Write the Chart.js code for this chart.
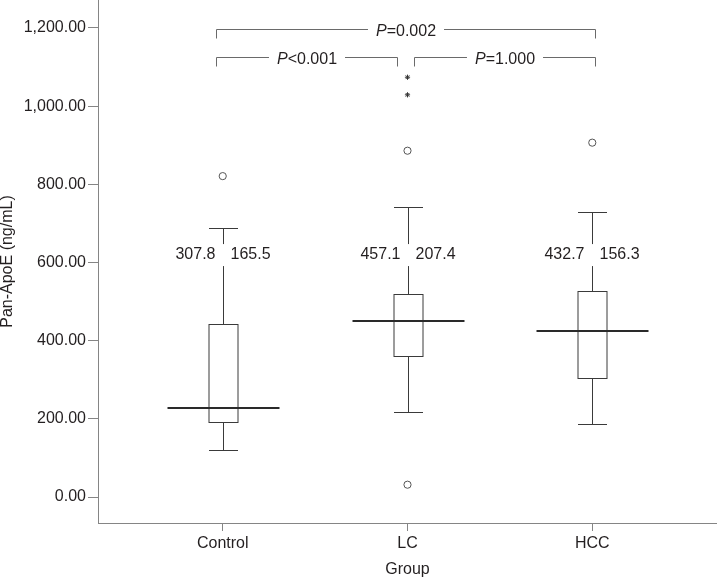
<!DOCTYPE html>
<html><head><meta charset="utf-8">
<script src="https://cdn.jsdelivr.net/npm/chart.js@4.4.1/dist/chart.umd.min.js"></script>
<style>html,body{margin:0;padding:0;background:#fff}#wrap{position:relative;width:717px;height:578px}canvas{display:block}</style>
</head><body><div id="wrap"><canvas id="c" width="717" height="578"></canvas></div>
<script>
// ---- data ----
const groups = ['Control', 'LC', 'HCC'];
const whiskerLow = [119.5, 217.5, 187.6];
const q1 = [191, 360, 304.5];
const median = [227.7, 450, 425];
const q3 = [442.7, 520, 527];
const whiskerHigh = [688, 741, 729];
const meanValues = ['307.8', '457.1', '432.7'];
const sdValues = ['165.5', '207.4', '156.3'];
const outlierGroup = [1, 2, 2, 3];
const outlierValue = [821, 886, 31.5, 906.6];
const extremeGroup = [2, 2];
const extremeValue = [1029, 1074];
const yTickValues = [0, 200, 400, 600, 800, 1000, 1200];
const compFrom = [1, 1, 2];
const compTo = [3, 2, 3];
const compLabel = ['=0.002', '<0.001', '=1.000'];
const compLevel = [1198, 1125, 1125];
const labelLevel = 619;

// ---- style ----
const FONT_FAMILY = "'Liberation Sans', Arial, sans-serif";
const TEXT = '#231f20';
const AXIS = '#858585';
const LINE = '#3a3a3a';
const BOX_W = 29, MED_W = 112;
const bracketStartOff = [-7, 6, 0];
const bracketEndOff = [0, -11, 3];

Chart.defaults.font.family = FONT_FAMILY;
Chart.defaults.font.size = 16;
Chart.defaults.color = TEXT;

function seg(ctx, x1, y1, x2, y2) { ctx.beginPath(); ctx.moveTo(x1, y1); ctx.lineTo(x2, y2); ctx.stroke(); }

const boxPlugin = {
  id: 'boxes',
  beforeDatasetsDraw(chart) {
    const { ctx, scales: { x, y } } = chart;
    ctx.save();
    ctx.font = '16px ' + FONT_FAMILY;
    groups.forEach((g, i) => {
      const cx = Math.round(x.getPixelForValue(i + 1)) + 0.5;
      const p = v => Math.round(y.getPixelForValue(v)) + 0.5;
      const yLo = p(whiskerLow[i]), yQ1 = p(q1[i]), yMed = Math.round(y.getPixelForValue(median[i])), yQ3 = p(q3[i]), yHi = p(whiskerHigh[i]);
      ctx.strokeStyle = LINE; ctx.lineWidth = 1;
      seg(ctx, cx, yQ3, cx, yHi);
      seg(ctx, cx - BOX_W / 2, yHi, cx + BOX_W / 2, yHi);
      seg(ctx, cx, yQ1, cx, yLo);
      seg(ctx, cx - BOX_W / 2, yLo, cx + BOX_W / 2, yLo);
      ctx.strokeRect(cx - BOX_W / 2, yQ3, BOX_W, yQ1 - yQ3);
      ctx.strokeStyle = '#2a2a2a'; ctx.lineWidth = 2;
      seg(ctx, cx - MED_W / 2, yMed, cx + MED_W / 2, yMed);
      // mean / sd labels
      const ty = y.getPixelForValue(labelLevel);
      ctx.fillStyle = '#fff';
      ctx.fillRect(cx - 4, ty - 11, 8, 22);
      ctx.fillStyle = TEXT; ctx.textBaseline = 'middle';
      ctx.textAlign = 'right'; ctx.fillText(meanValues[i], cx - 8, ty);
      ctx.textAlign = 'left'; ctx.fillText(sdValues[i], cx + 7, ty);
    });
    // significance brackets
    ctx.strokeStyle = '#6a6a6a'; ctx.lineWidth = 1;
    compFrom.forEach((f, k) => {
      const x1 = Math.round(x.getPixelForValue(f)) + bracketStartOff[f - 1] + 0.5;
      const x2 = Math.round(x.getPixelForValue(compTo[k])) + bracketEndOff[compTo[k] - 1] + 0.5;
      const by = Math.round(y.getPixelForValue(compLevel[k])) + 0.5;
      const mid = (x1 + x2) / 2;
      ctx.font = 'italic 16px ' + FONT_FAMILY;
      const wP = ctx.measureText('P').width;
      ctx.font = '16px ' + FONT_FAMILY;
      const wR = ctx.measureText(compLabel[k]).width;
      const tw = wP + wR;
      const t0 = mid - tw / 2;
      seg(ctx, x1, by + 9, x1, by);
      seg(ctx, x1, by, t0 - 8, by);
      seg(ctx, t0 + tw + 8, by, x2, by);
      seg(ctx, x2, by, x2, by + 9);
      ctx.fillStyle = TEXT; ctx.textBaseline = 'middle'; ctx.textAlign = 'left';
      ctx.font = 'italic 16px ' + FONT_FAMILY;
      ctx.fillText('P', t0, by + 2);
      ctx.font = '16px ' + FONT_FAMILY;
      ctx.fillText(compLabel[k], t0 + wP, by + 2);
    });
    ctx.restore();
  }
};

new Chart(document.getElementById('c'), {
  type: 'scatter',
  data: {
    datasets: [
      {
        data: outlierGroup.map((g, i) => ({ x: g, y: outlierValue[i] })),
        pointStyle: 'circle', pointRadius: 3.6, borderWidth: 1,
        borderColor: '#555', backgroundColor: '#fff'
      },
      {
        data: extremeGroup.map((g, i) => ({ x: g, y: extremeValue[i] })),
        pointStyle: 'star', pointRadius: 2.6, borderWidth: 1,
        borderColor: '#333', backgroundColor: '#333'
      }
    ]
  },
  options: {
    responsive: false, animation: false, devicePixelRatio: 1,
    layout: { padding: 0, autoPadding: false },
    plugins: { legend: { display: false }, tooltip: { enabled: false } },
    scales: {
      x: {
        type: 'linear', min: 0.325, max: 3.675,
        afterBuildTicks: s => { s.ticks = [1, 2, 3].map(v => ({ value: v })); },
        afterFit: s => { s.height = 55; s.paddingLeft = 0; s.paddingRight = 0; },
        ticks: { callback: v => groups[v - 1], padding: 3, color: TEXT, maxRotation: 0 },
        grid: { display: true, drawOnChartArea: false, drawTicks: true, tickLength: 8, color: AXIS },
        border: { display: true, color: AXIS, width: 1 },
        title: { display: true, text: 'Group', color: TEXT, font: { size: 16, lineHeight: 1 }, padding: { top: 1, bottom: 0 } }
      },
      y: {
        min: -66.5, max: 1271.6,
        afterBuildTicks: s => { s.ticks = yTickValues.map(v => ({ value: v })); },
        afterFit: s => { s.width = 98; s.paddingTop = 0; s.paddingBottom = 0; },
        ticks: {
          callback: v => v.toLocaleString('en-US', { minimumFractionDigits: 2, maximumFractionDigits: 2 }),
          padding: 2, color: TEXT
        },
        grid: { display: true, drawOnChartArea: false, drawTicks: true, tickLength: 10, color: AXIS },
        border: { display: true, color: AXIS, width: 1 },
        title: { display: true, text: 'Pan-ApoE (ng/mL)', color: TEXT, font: { size: 16, lineHeight: 1 }, padding: { top: 0, bottom: 0 } }
      }
    }
  },
  plugins: [boxPlugin]
});
</script>
</body></html>
